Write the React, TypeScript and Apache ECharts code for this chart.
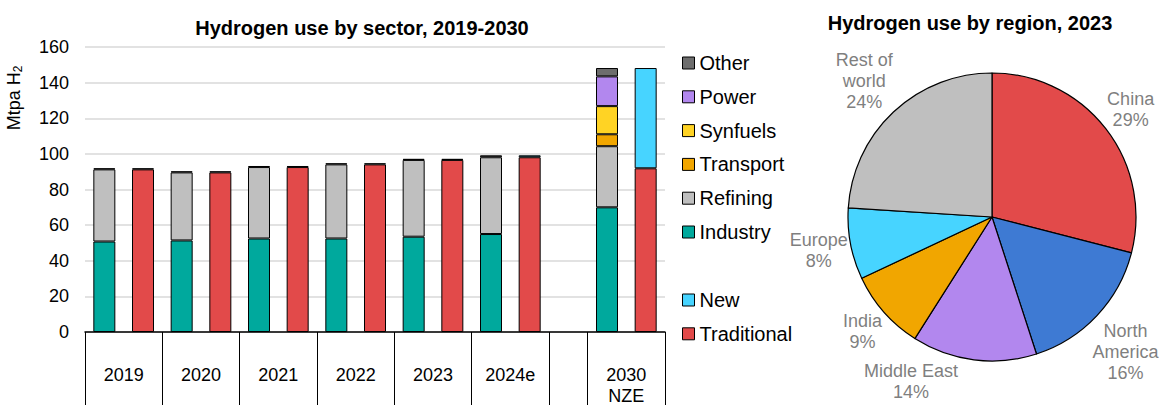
import React, { useEffect, useRef } from 'react';
import * as echarts from 'echarts';

// ---------- data ----------
const years = ['2019', '2020', '2021', '2022', '2023', '2024e', '2030\nNZE'];
const industry = [50.8, 51.4, 52.5, 52.5, 53.5, 55.0, 70.0];
const refining = [40.5, 38.2, 40.1, 41.6, 43.1, 43.1, 34.3];
const transport = [null, null, null, null, null, null, 6.7];
const synfuels = [null, null, null, null, null, null, 15.8];
const power = [null, null, null, null, null, null, 16.7];
const other = [0.6, 0.6, 0.6, 0.6, 0.6, 1.1, 4.7];
const traditional = [91.3, 89.6, 92.6, 94.1, 96.6, 98.1, 91.9];
const newH2 = [0.6, 0.6, 0.6, 0.6, 0.6, 1.1, 56.3];

const yMin = 0;
const yMax = 160;
const yStep = 20;

const regions = ['China', 'North\nAmerica', 'Middle East', 'India', 'Europe', 'Rest of\nworld'];
const regionShares = [29, 16, 14, 9, 8, 24];

// ---------- styles ----------
const FONT = '"Liberation Sans", Arial, Helvetica, sans-serif';
const C = {
  teal: '#00A99D',
  gray: '#BFBFBF',
  orange: '#F1A600',
  yellow: '#FFD324',
  purple: '#B287EE',
  dark: '#6D6D6D',
  red: '#E24A4A',
  cyan: '#47D4FF',
  blue: '#3E7AD3',
};
const regionColors = [C.red, C.blue, C.purple, C.orange, C.cyan, C.gray];

const PIE_C = [992, 217];
const PIE_R = 144;
const W = 1161;
const H = 405;

// ---------- slots ----------
const slotCats: string[] = [];
const sectorSlot: number[] = [];
const sourceSlot: number[] = [];
let gapSlot = -1;
years.forEach((y, i) => {
  if (i === years.length - 1) {
    gapSlot = slotCats.length;
    slotCats.push('gap');
  }
  sectorSlot.push(slotCats.length);
  slotCats.push(y + ' sector');
  sourceSlot.push(slotCats.length);
  slotCats.push(y + ' source');
});
const nSlots = slotCats.length;
const boundaryCats = Array.from({ length: nSlots + 1 }, (_, i) => 'b' + i);
const boundaryLabels = Array(nSlots + 1).fill('');
years.forEach((y, i) => {
  boundaryLabels[sectorSlot[i] + 1] = y;
});
const tickBoundaries = new Set<number>([...sectorSlot, gapSlot, nSlots]);

function toSlots(values: (number | null)[], slots: number[]) {
  const arr: (number | null)[] = Array(nSlots).fill(null);
  values.forEach((v, i) => {
    arr[slots[i]] = v;
  });
  return arr;
}

const barSeries = (name: string, values: (number | null)[], slots: number[], color: string) => ({
  name,
  type: 'bar',
  stack: 'h2',
  xAxisIndex: 0,
  barWidth: 22,
  data: toSlots(values, slots),
  itemStyle: { color, borderColor: '#000', borderWidth: 1 },
  emphasis: { disabled: true },
  silent: true,
});

// ---------- pie label geometry ----------
let measureCtx: CanvasRenderingContext2D | null = null;
function textWidth(text: string) {
  if (!measureCtx) measureCtx = document.createElement('canvas').getContext('2d');
  if (!measureCtx) return text.length * 9;
  measureCtx.font = `18px ${FONT}`;
  return Math.max(...text.split('\n').map((l) => measureCtx!.measureText(l).width));
}
const shareTotal = regionShares.reduce((a, b) => a + b, 0);
let cumShare = 0;
const midAngles = regionShares.map((v) => {
  const m = ((cumShare + v / 2) / shareTotal) * 360;
  cumShare += v;
  return m;
});
const pieLabel = (i: number) => `${regions[i]}\n${Math.round((regionShares[i] / shareTotal) * 100)}%`;

function placeLabel(i: number, h: number) {
  const w = textWidth(pieLabel(i));
  const at = (deg: number) => {
    const t = (deg * Math.PI) / 180;
    const s = Math.sin(t);
    const c = Math.cos(t);
    const D = PIE_R + (Math.abs(s) * w) / 2 + (Math.abs(c) * h) / 2;
    return { x: PIE_C[0] + D * s, y: PIE_C[1] - D * c };
  };
  const fits = (p: { x: number; y: number }) =>
    p.y + h / 2 <= H - 2 && p.y - h / 2 >= 40 && p.x + w / 2 <= W - 2 && p.x - w / 2 >= 700;
  for (let k = 0; k < 200; k++) {
    const d = Math.ceil(k / 2) * 0.5 * (k % 2 === 1 ? 1 : -1);
    const p = at(midAngles[i] + d);
    if (fits(p)) return p;
  }
  return at(midAngles[i]);
}

export default function App() {
  const ref = useRef<HTMLDivElement>(null);
  useEffect(() => {
    const chart = echarts.init(ref.current!, null, { renderer: 'svg' });
    const legendBase = {
      orient: 'vertical',
      left: 677,
      itemWidth: 12,
      itemHeight: 12,
      itemGap: 13.8,
      icon: 'rect',
      selectedMode: false,
      itemStyle: { borderColor: '#000', borderWidth: 1 },
      textStyle: { fontSize: 20, lineHeight: 20, color: '#000', fontFamily: FONT },
    };
    const option: any = {
      animation: false,
      textStyle: { fontFamily: FONT },
      graphic: [
        {
          type: 'text',
          x: 362,
          y: 27.5,
          silent: true,
          style: {
            text: 'Hydrogen use by sector, 2019-2030',
            fontSize: 20,
            fontWeight: 'bold',
            fontFamily: FONT,
            fill: '#000',
            align: 'center',
            verticalAlign: 'middle',
          },
        },
        {
          type: 'text',
          x: 970,
          y: 23,
          silent: true,
          style: {
            text: 'Hydrogen use by region, 2023',
            fontSize: 20,
            fontWeight: 'bold',
            fontFamily: FONT,
            fill: '#000',
            align: 'center',
            verticalAlign: 'middle',
          },
        },
        {
          type: 'text',
          x: 14,
          y: 98,
          rotation: Math.PI / 2,
          silent: true,
          style: {
            text: 'Mtpa H{s|2}',
            fontSize: 18,
            fontFamily: FONT,
            fill: '#000',
            align: 'center',
            verticalAlign: 'middle',
            rich: { s: { fontSize: 12, fontFamily: FONT, fill: '#000', padding: [8, 0, 0, 0] } },
          },
        },
      ],
      legend: [
        {
          ...legendBase,
          data: ['Other', 'Power', 'Synfuels', 'Transport', 'Refining', 'Industry'],
          top: 48,
        },
        {
          ...legendBase,
          data: ['New', 'Traditional'],
          top: 285,
        },
      ],
      grid: {
        left: 85,
        right: W - 665,
        top: 47,
        bottom: H - 332,
        containLabel: false,
        outerBoundsMode: 'none',
      },
      xAxis: [
        {
          type: 'category',
          position: 'bottom',
          data: slotCats,
          axisLine: { show: true, lineStyle: { color: '#000', width: 1.5 } },
          axisTick: { show: false },
          axisLabel: { show: false },
          splitLine: { show: false },
        },
        {
          type: 'category',
          position: 'bottom',
          boundaryGap: false,
          data: boundaryCats,
          axisLine: { show: false },
          axisTick: {
            show: true,
            length: 75,
            interval: (index: number) => tickBoundaries.has(index),
            lineStyle: { color: '#000', width: 1 },
          },
          axisLabel: {
            show: true,
            interval: 0,
            margin: 32,
            fontSize: 18,
            lineHeight: 21,
            color: '#000',
            fontFamily: FONT,
            formatter: (_v: string, index: number) => boundaryLabels[index] || '',
          },
          splitLine: { show: false },
        },
      ],
      yAxis: {
        type: 'value',
        min: yMin,
        max: yMax,
        interval: yStep,
        axisLine: { show: false },
        axisTick: { show: false },
        axisLabel: { fontSize: 18, color: '#000', margin: 16, fontFamily: FONT },
        splitLine: { lineStyle: { color: '#D9D9D9', width: 1.5 } },
      },
      series: [
        barSeries('Industry', industry, sectorSlot, C.teal),
        barSeries('Refining', refining, sectorSlot, C.gray),
        barSeries('Transport', transport, sectorSlot, C.orange),
        barSeries('Synfuels', synfuels, sectorSlot, C.yellow),
        barSeries('Power', power, sectorSlot, C.purple),
        barSeries('Other', other, sectorSlot, C.dark),
        barSeries('Traditional', traditional, sourceSlot, C.red),
        barSeries('New', newH2, sourceSlot, C.cyan),
        {
          type: 'pie',
          center: PIE_C,
          radius: PIE_R,
          startAngle: 90,
          clockwise: true,
          silent: true,
          emphasis: { disabled: true },
          avoidLabelOverlap: false,
          data: regions.map((n, i) => ({
            name: n,
            value: regionShares[i],
            itemStyle: { color: regionColors[i] },
          })),
          itemStyle: { borderColor: '#000', borderWidth: 1.2 },
          label: {
            show: true,
            position: 'outside',
            width: 140,
            overflow: 'none',
            formatter: (p: any) => pieLabel(p.dataIndex),
            color: '#7F7F7F',
            fontSize: 18,
            lineHeight: 21,
            fontFamily: FONT,
          },
          labelLine: { show: false, length: 0, length2: 0 },
          labelLayout: (p: any) => {
            const pos = placeLabel(p.dataIndex, p.labelRect.height);
            return { x: pos.x, y: pos.y, align: 'center', verticalAlign: 'middle' };
          },
        },
      ],
    };
    chart.setOption(option);
    return () => chart.dispose();
  }, []);
  return (
    <div
      ref={ref}
      style={{ position: 'absolute', left: 0, top: 0, width: W, height: H, background: '#fff' }}
    />
  );
}
